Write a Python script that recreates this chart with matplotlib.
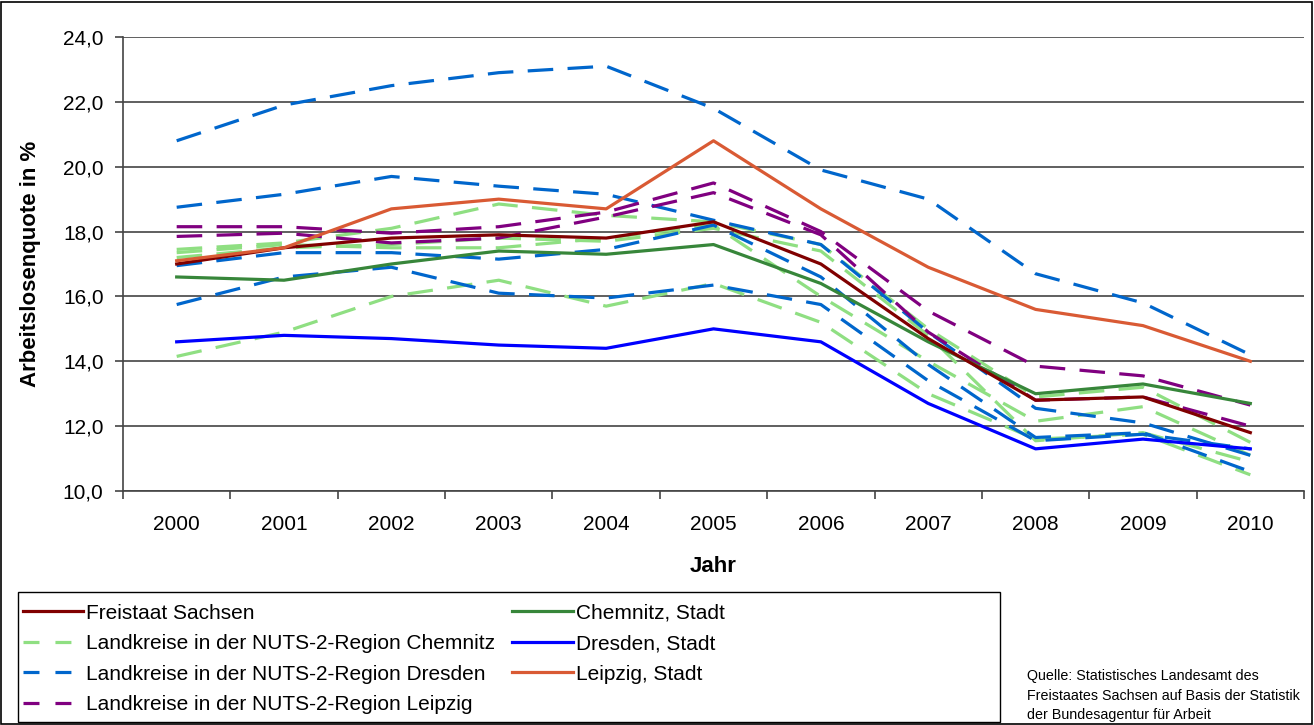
import matplotlib.pyplot as plt
from matplotlib.patches import Rectangle
from matplotlib.lines import Line2D
from matplotlib.ticker import FuncFormatter

plt.rcParams['font.family'] = ['Liberation Sans', 'DejaVu Sans']

# Arbeitslosenquote in %, 2000-2010
years = list(range(2000, 2011))

sachsen = [17.0, 17.5, 17.8, 17.9, 17.8, 18.3, 17.0, 14.7, 12.8, 12.9, 11.8]
chemnitz_stadt = [16.6, 16.5, 17.0, 17.4, 17.3, 17.6, 16.4, 14.6, 13.0, 13.3, 12.7]
dresden_stadt = [14.6, 14.8, 14.7, 14.5, 14.4, 15.0, 14.6, 12.7, 11.3, 11.6, 11.3]
leipzig_stadt = [17.1, 17.5, 18.7, 19.0, 18.7, 20.8, 18.7, 16.9, 15.6, 15.1, 14.0]

# Landkreise in der NUTS-2-Region Chemnitz
lk_chemnitz = [
    [17.45, 17.65, 18.1, 18.85, 18.5, 18.3, 17.6, 15.0, 12.9, 13.2, 11.5],
    [17.35, 17.6, 17.5, 17.5, 17.8, 18.2, 16.0, 14.0, 12.15, 12.6, 11.1],
    [17.2, 17.5, 17.6, 17.8, 17.7, 18.1, 17.4, 14.8, 11.55, 11.8, 10.9],
    [14.15, 14.9, 16.0, 16.5, 15.7, 16.4, 15.2, 13.0, 11.6, 11.75, 10.5],
]
# Landkreise in der NUTS-2-Region Dresden
lk_dresden = [
    [20.8, 21.9, 22.5, 22.9, 23.1, 21.8, 19.9, 19.0, 16.7, 15.8, 14.2],
    [18.75, 19.15, 19.7, 19.4, 19.15, 18.35, 17.6, 14.9, 12.55, 12.1, 11.1],
    [16.95, 17.35, 17.35, 17.15, 17.45, 18.2, 16.6, 13.9, 11.65, 11.8, 10.6],
    [15.75, 16.6, 16.9, 16.1, 15.95, 16.35, 15.75, 13.4, 11.55, 11.75, 11.3],
]
# Landkreise in der NUTS-2-Region Leipzig
lk_leipzig = [
    [18.15, 18.15, 17.95, 18.15, 18.6, 19.5, 18.0, 15.55, 13.85, 13.55, 12.65],
    [17.85, 17.95, 17.65, 17.8, 18.45, 19.2, 17.9, 14.9, 12.8, 12.9, 12.0],
]

c_sachsen = '#800000'
c_chem = '#37863A'
c_dres = '#0000FF'
c_leip = '#D95A34'
c_lk_chem = '#8FDF82'
c_lk_dres = '#0066CC'
c_lk_leip = '#800080'

lw = 2.3
dash = (0, (8, 4.5))
fs = 15

fig = plt.figure(figsize=(13.14, 7.25), dpi=100)
W, H = 1314, 725
ax = fig.add_axes([123 / W, 1 - 491 / H, (1304 - 123) / W, (491 - 37) / H])

for s in lk_chemnitz:
    ax.plot(years, s, color=c_lk_chem, lw=lw, ls=dash)
for s in lk_dresden:
    ax.plot(years, s, color=c_lk_dres, lw=lw, ls=dash)
for s in lk_leipzig:
    ax.plot(years, s, color=c_lk_leip, lw=lw, ls=dash)

ax.plot(years, chemnitz_stadt, color=c_chem, lw=lw)
ax.plot(years, dresden_stadt, color=c_dres, lw=lw)
ax.plot(years, sachsen, color=c_sachsen, lw=lw)
ax.plot(years, leipzig_stadt, color=c_leip, lw=lw)

ax.set_xlim(1999.5, 2010.5)
ax.set_ylim(10, 24)
ax.set_yticks(range(10, 25, 2))
ax.yaxis.set_major_formatter(FuncFormatter(lambda v, p: f'{v:.1f}'.replace('.', ',')))
ax.set_xticks(years)
ax.set_xticks([y + 0.5 for y in range(1999, 2011)], minor=True)
ax.tick_params(axis='x', which='major', length=0, pad=17, labelsize=fs)
ax.tick_params(axis='x', which='minor', length=6, width=1.2, color='#444444')
ax.tick_params(axis='y', length=6, width=1.2, color='#444444', labelsize=fs, pad=8)
ax.grid(axis='y', color='#444444', lw=1.2)
ax.set_axisbelow(True)
for side in ['top', 'right']:
    ax.spines[side].set_visible(False)
for side in ['left', 'bottom']:
    ax.spines[side].set_color('#444444')
    ax.spines[side].set_linewidth(1.2)

ax.set_xlabel('Jahr', fontsize=16, fontweight='bold', labelpad=16)
ax.set_ylabel('Arbeitslosenquote in %', fontsize=16, fontweight='bold', labelpad=16)

# outer frame
fig.patches.append(Rectangle((1 / W, 1 / H), 1 - 3 / W, 1 - 3 / H, transform=fig.transFigure,
                             fill=False, ec='black', lw=1.2))
# legend frame
fig.patches.append(Rectangle((18 / W, 1 - 722 / H), (1000 - 18) / W, (722 - 592) / H,
                             transform=fig.transFigure, fill=False, ec='black', lw=1.0))

short_dash = (0, (5, 5))
handles = [
    Line2D([], [], color=c_sachsen, lw=lw),
    Line2D([], [], color=c_lk_chem, lw=lw, ls=short_dash),
    Line2D([], [], color=c_lk_dres, lw=lw, ls=short_dash),
    Line2D([], [], color=c_lk_leip, lw=lw, ls=short_dash),
    Line2D([], [], color=c_chem, lw=lw),
    Line2D([], [], color=c_dres, lw=lw),
    Line2D([], [], color=c_leip, lw=lw),
]
labels = [
    'Freistaat Sachsen',
    'Landkreise in der NUTS-2-Region Chemnitz',
    'Landkreise in der NUTS-2-Region Dresden',
    'Landkreise in der NUTS-2-Region Leipzig',
    'Chemnitz, Stadt',
    'Dresden, Stadt',
    'Leipzig, Stadt',
]
fig.legend(handles, labels, ncol=2, loc='upper left',
           bbox_to_anchor=(8 / W, 1 - 589 / H), frameon=False,
           fontsize=fs, handlelength=2.9, handletextpad=0.15,
           columnspacing=0.82, labelspacing=0.55, borderpad=0.2)

fig.text(1027 / W, 1 - 669 / H,
         'Quelle: Statistisches Landesamt des\nFreistaates Sachsen auf Basis der Statistik\nder Bundesagentur für Arbeit',
         fontsize=10.3, va='top', ha='left', linespacing=1.5)

fig.savefig('out.png', dpi=100)
